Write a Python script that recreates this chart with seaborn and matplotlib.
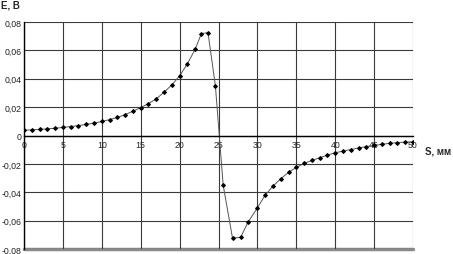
import numpy as np
import pandas as pd
import matplotlib
matplotlib.use("Agg")
import matplotlib.pyplot as plt
import seaborn as sns

# расстояние S, мм
s_mm = [0, 1, 2, 3, 4, 5, 6, 7, 8, 9, 10, 11, 12, 13, 14, 15, 16, 17, 18, 19, 20,
        21, 22, 22.8, 23.65, 24.6, 25.6, 26.8, 27.85, 28.8, 30,
        31, 32, 33, 34, 35, 36, 37, 38, 39, 40, 41, 42, 43, 44, 45, 46, 47, 48, 49, 50]
# ЭДС E, В
e_v = [0.0037, 0.0040, 0.0043, 0.0047, 0.0051, 0.0057, 0.0063, 0.0070, 0.0078, 0.0087, 0.0099,
       0.0112, 0.0127, 0.0147, 0.0171, 0.0197, 0.0225, 0.0258, 0.0305, 0.0357, 0.0420,
       0.0505, 0.0608, 0.0718, 0.0725, 0.0350, -0.0350, -0.0723, -0.0718, -0.0610, -0.0510,
       -0.0420, -0.0357, -0.0305, -0.0260, -0.0225, -0.0197, -0.0176, -0.0157, -0.0138, -0.0122,
       -0.0110, -0.0099, -0.0088, -0.0078, -0.0070, -0.0062, -0.0055, -0.0050, -0.0047, -0.0044]

x_ticks = [0, 5, 10, 15, 20, 25, 30, 35, 40, 45, 50]
y_ticks = [-0.08, -0.06, -0.04, -0.02, 0, 0.02, 0.04, 0.06, 0.08]
y_labels = ["-0,08", "-0,06", "-0,04", "-0,02", "0", "0,02", "0,04", "0,06", "0,08"]

dati = pd.DataFrame({"S": s_mm, "E": e_v})

sns.set_style("white")
plt.rcParams["font.family"] = ["Liberation Sans", "DejaVu Sans"]

fig = plt.figure(figsize=(4.53, 2.55), dpi=100)
ax = fig.add_axes([24 / 453, 1 - 250 / 255, (413 - 24) / 453, (250 - 23) / 255])

sns.lineplot(data=dati, x="S", y="E", ax=ax, color="#555555", linewidth=0.7,
             marker="D", markersize=2.0, markerfacecolor="black", markeredgecolor="black")

ax.set_xlim(0, 50)
ax.set_ylim(-0.08, 0.08)
ax.set_xticks(x_ticks)
ax.set_xticklabels([str(t) for t in x_ticks])
ax.set_yticks(y_ticks)
ax.set_yticklabels(y_labels)
ax.grid(True, color="#3a3a3a", linewidth=0.8)
ax.set_axisbelow(True)

for side in ["top", "right"]:
    ax.spines[side].set_visible(False)
ax.spines["left"].set_color("black")
ax.spines["left"].set_linewidth(1.0)
ax.spines["bottom"].set_position(("data", 0))
ax.spines["bottom"].set_color("black")
ax.spines["bottom"].set_linewidth(1.0)
ax.axhline(-0.08, color="#8a8a8a", linewidth=2.5, zorder=0, clip_on=False)

ax.tick_params(axis="both", length=0, labelsize=6.3, colors="#222222")
ax.tick_params(axis="x", pad=3)
ax.tick_params(axis="y", pad=1.5)
ax.set_xlabel("")
ax.set_ylabel("")

fig.text(1 / 453, 1 - 6 / 255, "E, B", fontsize=7, fontweight="bold", ha="left", va="center")
fig.text(425 / 453, 1 - 151 / 255, "S, мм", fontsize=7, fontweight="bold", ha="left", va="center")

fig.savefig("out.png", dpi=100)
